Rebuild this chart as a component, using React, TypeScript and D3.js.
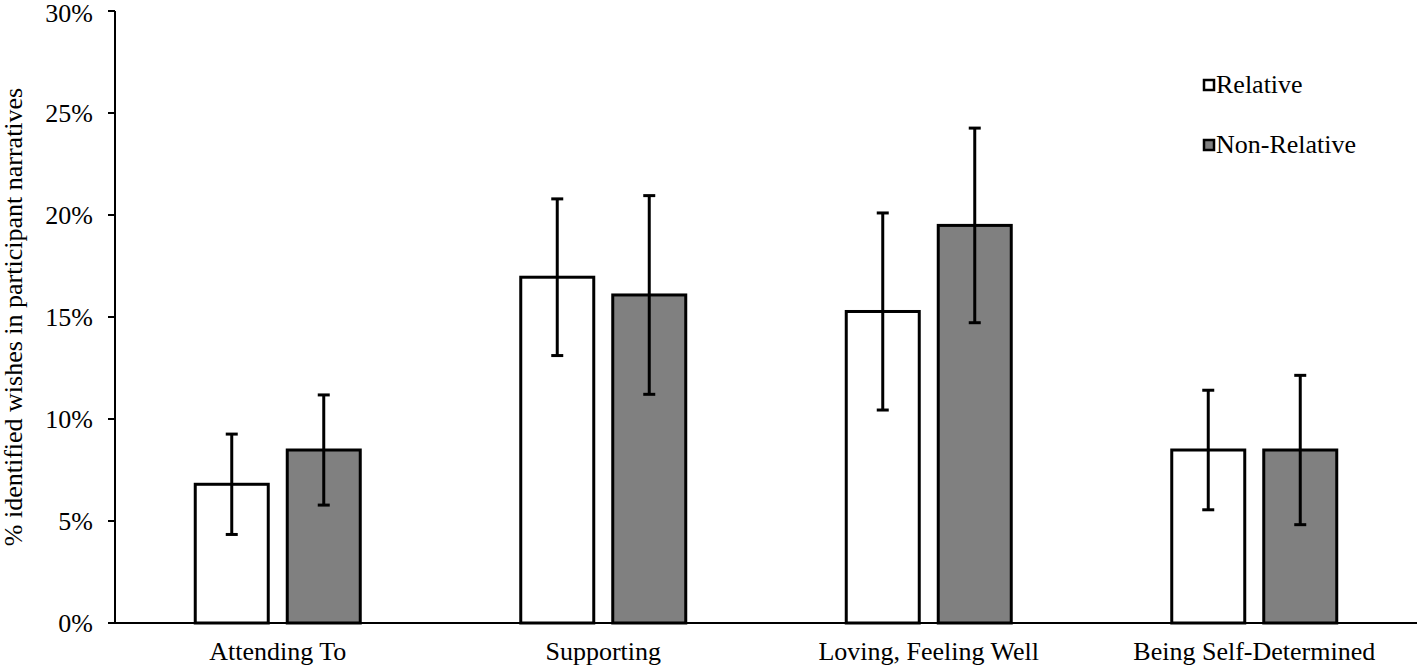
import * as d3 from 'd3';

const categories = ['Attending To', 'Supporting', 'Loving, Feeling Well', 'Being Self-Determined'];
const seriesNames = ['Relative', 'Non-Relative'];
const relativeValues = [6.8, 16.95, 15.27, 8.48];
const relativeErrors = [2.46, 3.84, 4.83, 2.93];
const nonRelativeValues = [8.48, 16.08, 19.49, 8.48];
const nonRelativeErrors = [2.7, 4.87, 4.77, 3.66];
const yTicks = [0, 5, 10, 15, 20, 25, 30];

const W = 1417;
const H = 667;
const FONT = 'Liberation Serif';
const FS = 26;

const margin = { left: 115, right: 0, top: 11, bottom: 44 };
const groupW = 165;
const fills = ['#ffffff', '#808080'];

export default function App() {
  const x = d3.scaleBand<string>()
    .domain(categories)
    .range([margin.left, W - margin.right]);
  const inner = d3.scaleBand<string>()
    .domain(seriesNames)
    .range([0, groupW])
    .paddingInner(19 / 92);
  const y = d3.scaleLinear()
    .domain([0, 30])
    .range([H - margin.bottom, margin.top]);

  const values = [relativeValues, nonRelativeValues];
  const errors = [relativeErrors, nonRelativeErrors];
  const barX = (c: string, s: string) => x(c)! + (x.bandwidth() - groupW) / 2 + inner(s)!;
  const bw = inner.bandwidth();

  return (
    <div style={{ position: 'absolute', left: 0, top: 0 }}>
      <svg width={W} height={H} style={{ display: 'block', background: '#fff' }}>
        {/* bars */}
        {seriesNames.map((s, si) =>
          categories.map((c, i) => (
            <rect
              key={s + c}
              x={barX(c, s)}
              y={y(values[si][i])}
              width={bw}
              height={y(0) - y(values[si][i])}
              fill={fills[si]}
              stroke="#000"
              strokeWidth={3}
            />
          ))
        )}

        {/* x axis line */}
        <line x1={margin.left} x2={W} y1={y(0)} y2={y(0)} stroke="#000" strokeWidth={2} />

        {/* error bars */}
        {seriesNames.map((s, si) =>
          categories.map((c, i) => {
            const cx = barX(c, s) + bw / 2;
            const hi = y(values[si][i] + errors[si][i]);
            const lo = y(values[si][i] - errors[si][i]);
            return (
              <g key={'e' + s + c} stroke="#000" strokeWidth={3}>
                <line x1={cx} x2={cx} y1={hi} y2={lo} />
                <line x1={cx - 6} x2={cx + 6} y1={hi} y2={hi} />
                <line x1={cx - 6} x2={cx + 6} y1={lo} y2={lo} />
              </g>
            );
          })
        )}

        {/* y axis */}
        <g>
          <line x1={margin.left} x2={margin.left} y1={y(30)} y2={y(0)} stroke="#000" strokeWidth={2} />
          {yTicks.map(t => (
            <g key={t} transform={`translate(0,${y(t)})`}>
              <line x1={margin.left - 7} x2={margin.left} stroke="#000" strokeWidth={2} />
              <text x={margin.left - 22} y={t === 30 ? 2 : 0} dy="0.33em" textAnchor="end" fontFamily={FONT} fontSize={FS}>{`${t}%`}</text>
            </g>
          ))}
        </g>

        {/* category labels */}
        {categories.map(c => (
          <text key={'l' + c} x={x(c)! + x.bandwidth() / 2} y={660} textAnchor="middle" fontFamily={FONT} fontSize={FS}>{c}</text>
        ))}

        {/* y title */}
        <text transform={`translate(22,${(y(0) + y(30)) / 2}) rotate(-90)`} textAnchor="middle" fontFamily={FONT} fontSize={FS}>
          % identified wishes in participant narratives
        </text>

        {/* legend */}
        <g transform="translate(1204,80)">
          {seriesNames.map((s, si) => (
            <g key={'lg' + s} transform={`translate(0,${si * 60})`}>
              <rect x={0} y={0} width={10} height={10} fill={fills[si]} stroke="#000" strokeWidth={2.5} />
              <text x={12} y={13} fontFamily={FONT} fontSize={FS}>{s}</text>
            </g>
          ))}
        </g>
      </svg>
    </div>
  );
}
